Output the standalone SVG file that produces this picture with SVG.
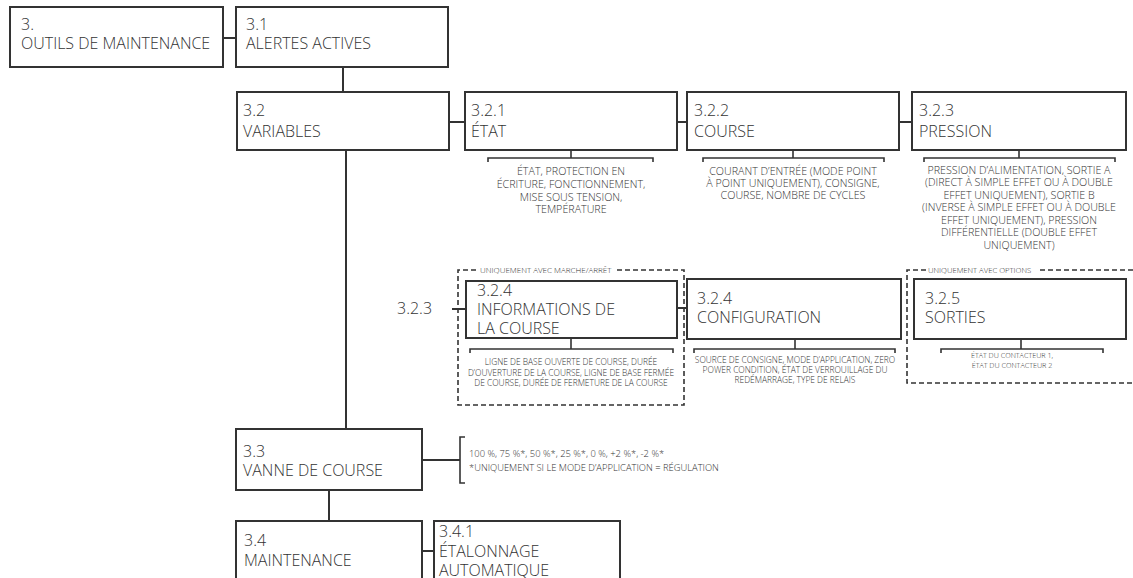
<svg xmlns="http://www.w3.org/2000/svg" width="1133" height="578" viewBox="0 0 1133 578">
<style>
.box{fill:#fff;stroke:#333;stroke-width:2}
.ln{fill:none;stroke:#333;stroke-width:2}
.br{fill:none;stroke:#333;stroke-width:1.6}
.dash{fill:none;stroke:#333;stroke-width:1.6;stroke-dasharray:5 3}
.t{font-family:"Open Sans","Liberation Sans",sans-serif;font-size:16px;font-weight:300;fill:#333}
.s{font-family:"Open Sans","Liberation Sans",sans-serif;font-size:10.7px;font-weight:300;fill:#333;text-anchor:middle}
.m{font-family:"Open Sans","Liberation Sans",sans-serif;font-size:8.4px;font-weight:300;fill:#333;text-anchor:middle}
.xs{font-family:"Open Sans","Liberation Sans",sans-serif;font-size:8px;font-weight:300;fill:#333}
</style>
<rect width="1133" height="578" fill="#fff"/>
<g id="connectors">
<line class="ln" x1="223" y1="38" x2="236" y2="38"/>
<line class="ln" x1="343" y1="67" x2="343" y2="92"/>
<line class="ln" x1="449" y1="122" x2="465" y2="122"/>
<line class="ln" x1="677" y1="122" x2="687" y2="122"/>
<line class="ln" x1="899" y1="122" x2="912" y2="122"/>
<line class="ln" x1="346" y1="150" x2="346" y2="429"/>
<line class="ln" x1="329" y1="490" x2="329" y2="521"/>
<line class="ln" x1="422" y1="551" x2="434" y2="551"/>
<line class="ln" x1="452" y1="309" x2="466" y2="309"/>
<line class="ln" x1="677" y1="308" x2="687" y2="308"/>
<line class="ln" x1="422" y1="460" x2="460" y2="460"/>
<path class="br" d="M465 437 H460 V483 H465"/>
</g>
<g id="n3"><rect class="box" x="10" y="7" width="213" height="60"/><text class="t" x="21" y="30">3.</text><text class="t" x="21" y="49">OUTILS DE MAINTENANCE</text></g>
<g id="n3_1"><rect class="box" x="236" y="7" width="212" height="60"/><text class="t" x="246" y="30">3.1</text><text class="t" x="246" y="49">ALERTES ACTIVES</text></g>
<g id="n3_2"><rect class="box" x="237" y="92" width="212" height="58"/><text class="t" x="243" y="116">3.2</text><text class="t" x="243" y="137">VARIABLES</text></g>
<g id="n3_2_1"><rect class="box" x="465" y="92" width="212" height="58"/><text class="t" x="471" y="116">3.2.1</text><text class="t" x="471" y="137">ÉTAT</text>
<path class="br" d="M571 150 V158 M488 162 V158 H653 V162"/>
<text class="s" x="571" y="175">ÉTAT, PROTECTION EN</text><text class="s" x="571" y="188">ÉCRITURE, FONCTIONNEMENT,</text><text class="s" x="571" y="200.5">MISE SOUS TENSION,</text><text class="s" x="571" y="213">TEMPÉRATURE</text></g>
<g id="n3_2_2"><rect class="box" x="687" y="92" width="212" height="58"/><text class="t" x="694" y="116">3.2.2</text><text class="t" x="694" y="137">COURSE</text>
<path class="br" d="M793 150 V158 M703 162 V158 H884 V162"/>
<text class="s" x="793" y="175">COURANT D’ENTRÉE (MODE POINT</text><text class="s" x="793" y="187">À POINT UNIQUEMENT), CONSIGNE,</text><text class="s" x="793" y="199">COURSE, NOMBRE DE CYCLES</text></g>
<g id="n3_2_3"><rect class="box" x="912" y="92" width="214" height="58"/><text class="t" x="919" y="116">3.2.3</text><text class="t" x="919" y="137">PRESSION</text>
<path class="br" d="M1019 150 V158 M924 162 V158 H1115 V162"/>
<text class="s" x="1019" y="173.5">PRESSION D’ALIMENTATION, SORTIE A</text><text class="s" x="1019" y="186">(DIRECT À SIMPLE EFFET OU À DOUBLE</text><text class="s" x="1019" y="198.5">EFFET UNIQUEMENT), SORTIE B</text><text class="s" x="1019" y="211">(INVERSE À SIMPLE EFFET OU À DOUBLE</text><text class="s" x="1019" y="223.5">EFFET UNIQUEMENT), PRESSION</text><text class="s" x="1019" y="236">DIFFÉRENTIELLE (DOUBLE EFFET</text><text class="s" x="1019" y="248.5">UNIQUEMENT)</text></g>
<g id="group_marche">
<path class="dash" d="M476 270 H458 V405 H684 V270 H614"/>
<text class="xs" x="480" y="272.5">UNIQUEMENT AVEC MARCHE/ARRÊT</text>
</g>
<g id="ref3_2_3"><text class="t" x="397" y="314">3.2.3</text></g>
<g id="n3_2_4a"><rect class="box" x="466" y="281" width="211" height="57"/><text class="t" x="477" y="296">3.2.4</text><text class="t" x="477" y="315">INFORMATIONS DE</text><text class="t" x="477" y="334">LA COURSE</text>
<path class="br" d="M571 338 V349 M470 353 V349 H673 V353"/>
<text class="m" x="571" y="365">LIGNE DE BASE OUVERTE DE COURSE, DURÉE</text><text class="m" x="571" y="375.5">D’OUVERTURE DE LA COURSE, LIGNE DE BASE FERMÉE</text><text class="m" x="571" y="386">DE COURSE, DURÉE DE FERMETURE DE LA COURSE</text></g>
<g id="n3_2_4b"><rect class="box" x="687" y="279" width="214" height="60"/><text class="t" x="697" y="304">3.2.4</text><text class="t" x="697" y="323">CONFIGURATION</text>
<path class="br" d="M795 339 V349 M694 353 V349 H895 V353"/>
<text class="m" x="795" y="363">SOURCE DE CONSIGNE, MODE D’APPLICATION, ZERO</text><text class="m" x="795" y="373">POWER CONDITION, ÉTAT DE VERROUILLAGE DU</text><text class="m" x="795" y="383">REDÉMARRAGE, TYPE DE RELAIS</text></g>
<g id="group_options">
<path class="dash" d="M926 270 H907 V383 H1133 M1133 270 H1040"/>
<text class="xs" style="font-size:7.7px" x="928" y="272.5">UNIQUEMENT AVEC OPTIONS</text>
</g>
<g id="n3_2_5"><rect class="box" x="914" y="279" width="212" height="60"/><text class="t" x="925" y="304">3.2.5</text><text class="t" x="925" y="323">SORTIES</text>
<path class="br" d="M1021 339 V349 M941 353 V349 H1103 V353"/>
<text class="m" style="font-size:7.2px" x="1012" y="358">ÉTAT DU CONTACTEUR 1,</text><text class="m" style="font-size:7.2px" x="1012" y="368">ÉTAT DU CONTACTEUR 2</text></g>
<g id="n3_3"><rect class="box" x="236" y="429" width="186" height="61"/><text class="t" x="243" y="457">3.3</text><text class="t" x="243" y="476">VANNE DE COURSE</text>
<text class="xs" style="font-size:9.4px" x="469" y="457">100 %, 75 %*, 50 %*, 25 %*, 0 %, +2 %*, -2 %*</text><text class="xs" style="font-size:9.4px" x="469" y="471">*UNIQUEMENT SI LE MODE D’APPLICATION = RÉGULATION</text></g>
<g id="n3_4"><rect class="box" x="236" y="521" width="186" height="70"/><text class="t" x="244" y="546">3.4</text><text class="t" x="244" y="566">MAINTENANCE</text></g>
<g id="n3_4_1"><rect class="box" x="434" y="521" width="186" height="70"/><text class="t" x="439" y="537">3.4.1</text><text class="t" x="439" y="557">ÉTALONNAGE</text><text class="t" x="439" y="576">AUTOMATIQUE</text></g>
</svg>
